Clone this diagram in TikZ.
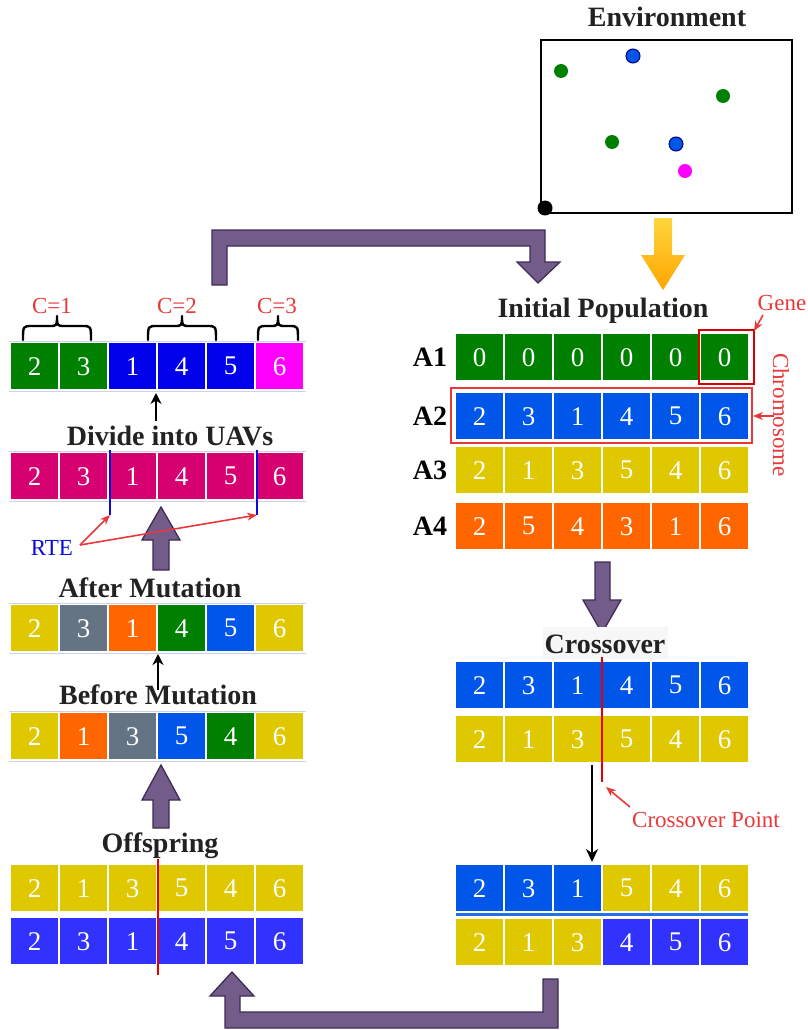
\documentclass[tikz,border=0pt]{standalone}
\usepackage{fontspec}
\setmainfont{Liberation Serif}
\usetikzlibrary{arrows.meta}

\definecolor{gGreen}{RGB}{0,128,0}
\definecolor{gBlue}{RGB}{0,0,235}
\definecolor{gAzure}{RGB}{0,86,232}
\definecolor{gViolet}{RGB}{50,50,255}
\definecolor{gMagenta}{RGB}{255,0,255}
\definecolor{gCrimson}{RGB}{214,0,112}
\definecolor{gYellow}{RGB}{224,200,0}
\definecolor{gOrange}{RGB}{255,102,0}
\definecolor{gSlate}{RGB}{100,116,132}
\definecolor{flowFill}{RGB}{115,92,138}
\definecolor{flowEdge}{RGB}{62,44,84}
\definecolor{noteRed}{RGB}{232,56,56}
\definecolor{cutRed}{RGB}{230,0,0}
\definecolor{rteBlue}{RGB}{10,10,220}
\definecolor{rowRule}{RGB}{205,210,235}
\definecolor{titleInk}{RGB}{34,34,34}

% one row of six genes: name, left x, top y, list of colour/value
\newcommand\generow[4]{%
  \foreach [count=\i] \c/\n in {#4} {
    \node[gene, fill=\c] (#1-\i) at ({#2+(\i-1)*49},#3) {\n};
  }%
}
% thin rules above and below a row in the left column
\newcommand\rowrules[1]{%
  \draw[rowrule] (9,#1-1.5) -- (306,#1-1.5);
  \draw[rowrule] (9,#1+48.5) -- (306,#1+48.5);
}
% curly group brace over a stretch of genes
\newcommand\groupbrace[2]{%
  \draw[line width=2.4pt, line cap=round, line join=round]
    (#1,340) .. controls (#1,326) and (#1,326) .. (#1+9,326)
    -- ({(#1+#2)/2-8},326) .. controls ({(#1+#2)/2},326) .. ({(#1+#2)/2},316)
    .. controls ({(#1+#2)/2},326) .. ({(#1+#2)/2+8},326)
    -- (#2-9,326) .. controls (#2,326) and (#2,326) .. (#2,340);
}

\begin{document}
\begin{tikzpicture}[x=1pt,y=-1pt,
  gene/.style={minimum width=47pt, minimum height=46pt, inner sep=0pt,
    anchor=north west, text=white, font=\fontsize{27}{27}\selectfont},
  title/.style={anchor=base, inner sep=0pt, text=titleInk,
    font=\bfseries\fontsize{28}{28}\selectfont},
  rowlabel/.style={inner sep=0pt, text=black,
    font=\bfseries\fontsize{28}{28}\selectfont},
  note/.style={anchor=base, inner sep=0pt, text=noteRed,
    font=\fontsize{23}{23}\selectfont},
  rowrule/.style={draw=rowRule, line width=1pt},
  flow/.style={fill=flowFill, draw=flowEdge, line width=1.3pt, line join=miter},
  pointer/.style={-{Stealth[length=11pt,width=11pt]}, line width=2.2pt},
  notearrow/.style={-{Stealth[length=10pt,width=8pt]}, draw=noteRed, line width=1.6pt},
  dot/.style={circle, inner sep=0pt, minimum size=14pt}
]
\useasboundingbox (0,0) rectangle (807,1030);

% ---------------- environment ----------------
\node[title] (envtitle) at (667,27) {Environment};
\draw[line width=2.5pt] (541,40) rectangle (792,213);
\node[dot, fill=gGreen] (u1) at (561,71) {};
\node[dot, fill=gAzure, draw=blue!50!black, line width=1pt] (t1) at (633,56) {};
\node[dot, fill=gGreen] (u2) at (723,96) {};
\node[dot, fill=gGreen] (u3) at (612,142) {};
\node[dot, fill=gAzure, draw=blue!50!black, line width=1pt] (t2) at (676,144) {};
\node[dot, fill=gMagenta] (u4) at (685,171) {};
\node[dot, fill=black, minimum size=15pt] (base) at (545,208) {};

% environment feeds the initial population
\shade[top color={rgb,255:red,255;green,214;blue,60}, bottom color={rgb,255:red,255;green,165;blue,0}]
  (654,218) -- (672,218) -- (672,255) -- (685,255) -- (663,290) -- (641,255) -- (654,255) -- cycle;

% ---------------- initial population ----------------
\node[title] (inittitle) at (603,317) {Initial Population};
\generow{A1}{456}{334}{gGreen/0,gGreen/0,gGreen/0,gGreen/0,gGreen/0,gGreen/0}
\generow{A2}{456}{393}{gAzure/2,gAzure/3,gAzure/1,gAzure/4,gAzure/5,gAzure/6}
\generow{A3}{456}{447}{gYellow/2,gYellow/1,gYellow/3,gYellow/5,gYellow/4,gYellow/6}
\generow{A4}{456}{503}{gOrange/2,gOrange/5,gOrange/4,gOrange/3,gOrange/1,gOrange/6}
\node[rowlabel] at (430,357) {A1};
\node[rowlabel] at (430,416) {A2};
\node[rowlabel] at (430,470) {A3};
\node[rowlabel] at (430,526) {A4};

% gene and chromosome callouts
\draw[draw=red!85!black, line width=2pt] (699,330) rectangle (754,384);
\node[note] (genelbl) at (782,310) {Gene};
\draw[notearrow] (763,315) -- (754,331);
\draw[draw=noteRed, line width=2pt] (451,388) rectangle (752,443);
\node[note, anchor=center, rotate=-90] (chromlbl) at (781,415) {Chromosome};
\draw[notearrow] (774,416) -- (753,416);

% ---------------- crossover ----------------
\draw[flow] (595,562) -- (610,562) -- (610,600) -- (621,600) -- (602,633)
  -- (583,600) -- (595,600) -- cycle;
\fill[black!3] (543,627) rectangle (668,659);
\node[title] (crosstitle) at (605,653) {Crossover};
\generow{P1}{456}{662}{gAzure/2,gAzure/3,gAzure/1,gAzure/4,gAzure/5,gAzure/6}
\generow{P2}{456}{716}{gYellow/2,gYellow/1,gYellow/3,gYellow/5,gYellow/4,gYellow/6}
\draw[draw=cutRed, line width=2.5pt] (602,657) -- (602,782);
\node[note] (cplbl) at (706,827) {Crossover Point};
\draw[notearrow] (630,807) -- (606,787);
\coordinate (xa) at (592,765);
\coordinate (xb) at (592,862);
\draw[-{Stealth[length=13pt,width=12pt]}, line width=2.2pt] (xa) -- (xb);

\generow{C1}{456}{865}{gAzure/2,gAzure/3,gAzure/1,gYellow/5,gYellow/4,gYellow/6}
\generow{C2}{456}{919}{gYellow/2,gYellow/1,gYellow/3,gViolet/4,gViolet/5,gViolet/6}
\draw[draw=gAzure!85!white, line width=2.5pt] (456,914.5) -- (748,914.5);

% children go back to the left column
\draw[flow] (558,979) -- (558,1028) -- (225,1028) -- (225,996) -- (210,996)
  -- (232,972) -- (254,996) -- (240,996) -- (240,1012) -- (543,1012)
  -- (543,979) -- cycle;

% ---------------- offspring ----------------
\node[title] (offtitle) at (160,852) {Offspring};
\generow{O1}{11}{865}{gYellow/2,gYellow/1,gYellow/3,gYellow/5,gYellow/4,gYellow/6}
\generow{O2}{11}{918}{gViolet/2,gViolet/3,gViolet/1,gViolet/4,gViolet/5,gViolet/6}
\draw[draw=cutRed, line width=2.5pt] (158,859) -- (158,975);

\draw[flow] (153,828) -- (169,828) -- (169,800) -- (180,800) -- (161,765)
  -- (142,800) -- (153,800) -- cycle;

% ---------------- mutation ----------------
\node[title] (beforetitle) at (158,704) {Before Mutation};
\rowrules{713}
\generow{B}{11}{713}{gYellow/2,gOrange/1,gSlate/3,gAzure/5,gGreen/4,gYellow/6}
\coordinate (ba) at (158,690);
\coordinate (bb) at (158,654);
\draw[pointer] (ba) -- (bb);

\node[title] (aftertitle) at (150,597) {After Mutation};
\rowrules{605}
\generow{M}{11}{605}{gYellow/2,gSlate/3,gOrange/1,gGreen/4,gAzure/5,gYellow/6}

\draw[flow] (153,570) -- (169,570) -- (169,540) -- (180,540) -- (161,507)
  -- (142,540) -- (153,540) -- cycle;

% ---------------- division into UAVs ----------------
\node[title] (dividetitle) at (170,445) {Divide into UAVs};
\rowrules{453}
\generow{D}{11}{453}{gCrimson/2,gCrimson/3,gCrimson/1,gCrimson/4,gCrimson/5,gCrimson/6}
\coordinate (r1top) at (110,450);
\coordinate (r1bot) at (110,515);
\coordinate (r2top) at (257,450);
\coordinate (r2bot) at (257,515);
\draw[draw=rteBlue, line width=2pt] (r1top) -- (r1bot);
\draw[draw=rteBlue, line width=2pt] (r2top) -- (r2bot);
\node[note, text=rteBlue] (rte) at (52,555) {RTE};
\coordinate (rtetail) at (80,545);
\draw[notearrow] (rtetail) -- (r1bot);
\draw[notearrow] (rtetail) -- (r2bot);

\coordinate (da) at (156,421);
\coordinate (db) at (156,393);
\draw[pointer] (da) -- (db);

% ---------------- UAV groups ----------------
\rowrules{343}
\generow{G}{11}{343}{gGreen/2,gGreen/3,gBlue/1,gBlue/4,gBlue/5,gMagenta/6}
\groupbrace{23}{91}
\groupbrace{148}{216}
\groupbrace{258}{298}
\node[note] (c1) at (52,313) {C=1};
\node[note] (c2) at (177,313) {C=2};
\node[note] (c3) at (277,313) {C=3};

% groups feed the next generation
\draw[flow] (212,285) -- (212,230) -- (545,230) -- (545,262) -- (560,262)
  -- (538,283) -- (517,262) -- (530,262) -- (530,246) -- (227,246)
  -- (227,285) -- cycle;

\end{tikzpicture}
\end{document}
